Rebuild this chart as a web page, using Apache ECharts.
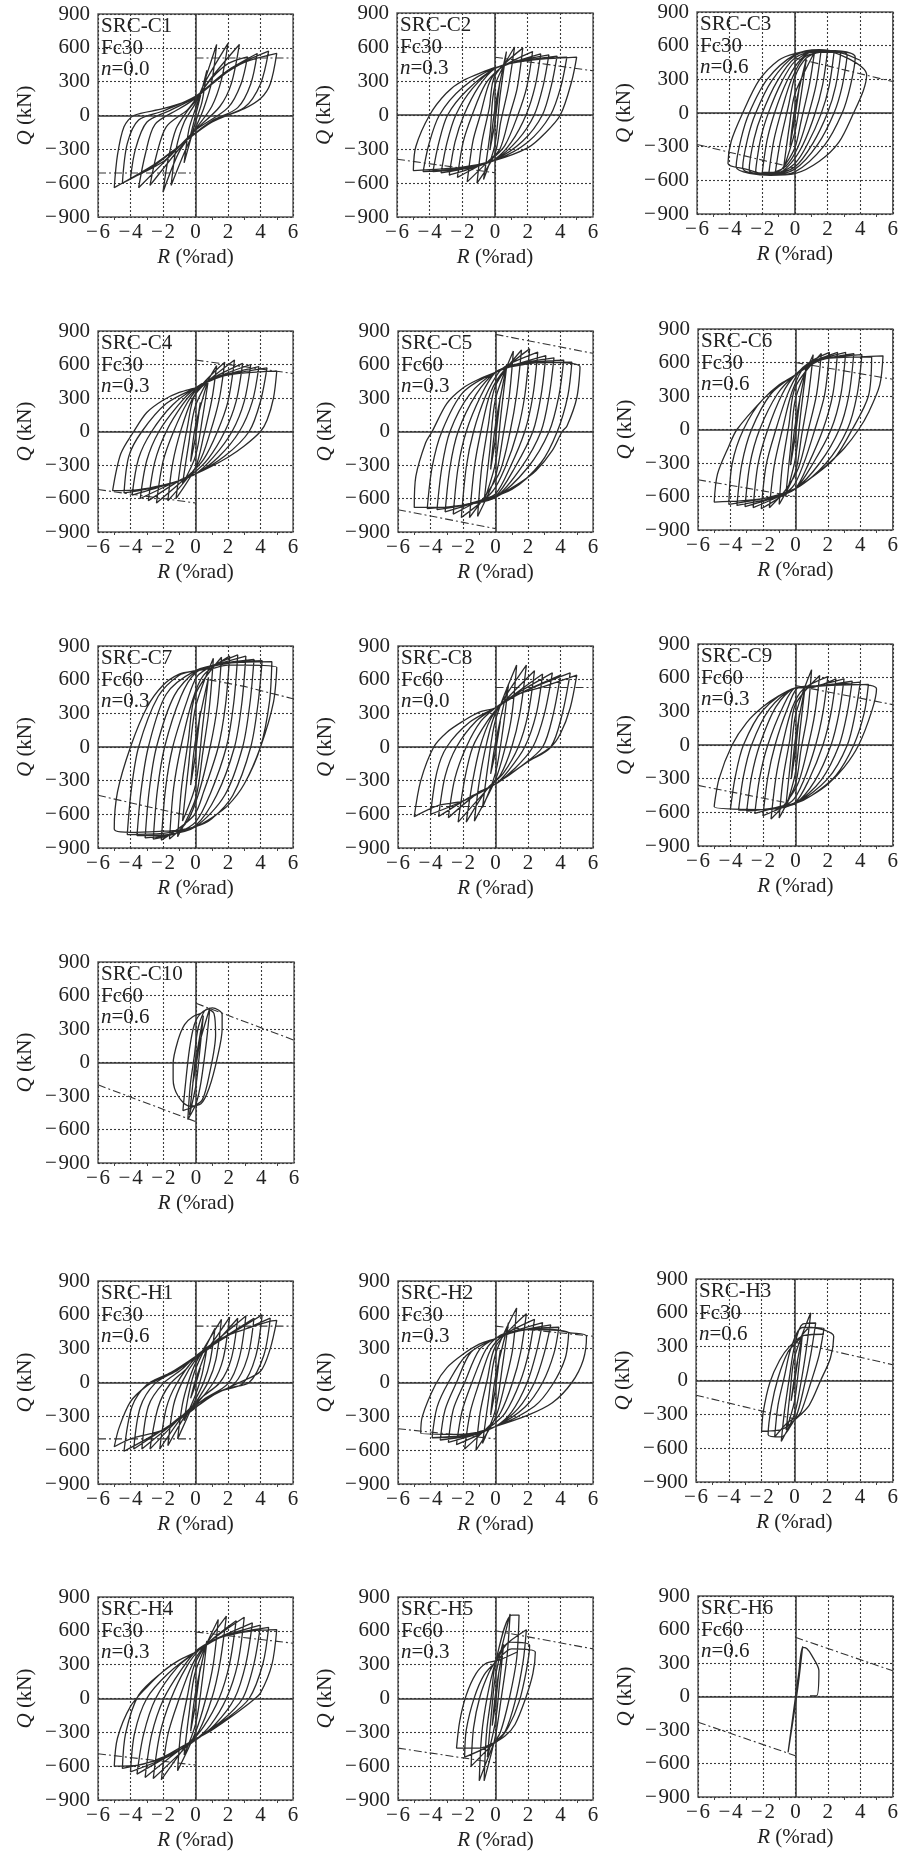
<!DOCTYPE html>
<html><head><meta charset="utf-8">
<style>html,body{margin:0;padding:0;background:#fff}#c{width:901px;height:1852px}</style>
<script src="https://cdn.jsdelivr.net/npm/echarts@6/dist/echarts.min.js"></script>
</head><body><div id="c"></div>
<script>
const specimenNames=['SRC-C1','SRC-C2','SRC-C3','SRC-C4','SRC-C5','SRC-C6','SRC-C7','SRC-C8','SRC-C9','SRC-C10','SRC-H1','SRC-H2','SRC-H3','SRC-H4','SRC-H5','SRC-H6'];
const concreteLabels=['Fc30','Fc30','Fc30','Fc30','Fc60','Fc30','Fc60','Fc60','Fc60','Fc60','Fc30','Fc30','Fc30','Fc30','Fc60','Fc60'];
const axialLabels=['0.0','0.3','0.6','0.3','0.3','0.6','0.3','0.0','0.3','0.6','0.6','0.3','0.6','0.3','0.3','0.6'];
const xTickRange=[-6,6,2];
const yTickRange=[-900,900,300];

const pathC1=[0,0,0.3,170,0,0,-0.3,-170,0,0,
0.7,400,0.4,120,0,-60,-0.7,-420,-0.4,-120,0,60,
1.3,630,1,300,0.5,60,0,-110,-0.6,-300,-1.5,-620,-1.2,-300,-0.7,-60,0,110,0.6,300,
2,640,1.6,320,1,80,0,-120,-1,-320,-2,-680,-1.7,-400,-1.2,-120,-0.5,40,0,130,1,340,
2.7,630,2.2,280,1.5,80,0,-130,-1.2,-330,-2.8,-620,-2.4,-350,-1.8,-100,-0.5,50,0,140,1,330,2,460,
3.2,520,2.8,280,2,70,0,-130,-1.5,-350,-3.5,-640,-3.1,-350,-2.5,-80,-1,60,0,150,1.2,310,2.2,420,
3.8,550,3.4,280,2.6,70,1,-50,-1,-270,-2,-410,-4,-560,-3.7,-300,-3,-60,-1.5,50,0,160,1.2,300,2.5,440,
4.5,570,4,280,3,70,1,-50,-1,-270,-2.5,-440,-4.5,-600,-4.2,-250,-3.5,-40,-2,40,0,170,1.5,340,3,470,
5,550,4.6,280,4,150,3,60,1,-60,-1,-270,-2.5,-430,-5,-640,-4.8,-350,-4.4,-100,-3.8,0,-2,60,0,150];
const pathC2=[0,0,0.3,300,0,-60,-0.3,-300,0,60,
0.7,560,0.3,160,0,-260,-0.7,-570,-0.3,-160,0,260,
1.2,600,0.8,230,0.35,-60,0,-340,-1.1,-600,-0.8,-240,-0.35,60,0,350,
1.7,590,1.35,230,0.9,0,0.3,-300,-0.5,-420,-1.7,-590,-1.35,-230,-0.9,0,-0.3,300,0.5,430,
2.3,560,1.95,250,1.4,0,0.6,-270,-0.3,-400,-1,-450,-2.3,-550,-1.95,-240,-1.4,0,-0.6,270,0.3,410,1,460,
2.8,540,2.45,250,1.9,0,1,-240,0,-390,-1.2,-460,-2.8,-530,-2.45,-240,-1.9,0,-1,250,0,410,1.2,470,
3.3,530,2.95,260,2.4,0,1.4,-220,0,-395,-1.5,-465,-3.3,-510,-2.95,-250,-2.4,0,-1.4,230,0,410,1.5,475,
3.8,520,3.45,260,2.9,0,1.7,-230,0,-395,-1.8,-470,-3.8,-500,-3.45,-250,-2.9,0,-1.7,220,0,410,1.8,480,
4.4,510,4.05,260,3.4,0,2,-240,0,-400,-2,-470,-4.4,-500,-4.05,-260,-3.4,0,-2,240,0,415,2,480,
5,510,4.7,300,4,0,3,-170,2,-290,0,-400,-2,-460,-5,-490,-4.85,-280,-4,0,-3,190,-2,300,0,420];
const pathC3=[0,0,0.3,260,0,-40,-0.3,-290,0,40,
0.7,480,0.35,130,0,-170,-0.7,-500,-0.35,-130,0,170,
1.2,540,0.9,260,0.4,-60,0,-310,-0.8,-500,-1.2,-530,-0.9,-260,-0.4,60,0,320,0.7,490,
1.6,550,1.3,250,0.8,-30,0.2,-300,-0.6,-480,-1.6,-540,-1.3,-250,-0.8,30,-0.2,300,0.6,500,
2,550,1.7,250,1.2,-20,0.5,-280,-0.2,-440,-1,-530,-2,-530,-1.7,-240,-1.2,20,-0.5,280,0.2,450,1,540,
2.4,540,2.1,240,1.6,-10,0.8,-270,0,-450,-1.2,-540,-2.4,-520,-2.1,-230,-1.6,10,-0.8,280,0,460,1.2,550,
2.8,530,2.5,240,2,0,1.1,-270,0,-480,-1.4,-545,-2.8,-510,-2.5,-230,-2,0,-1.1,280,0,490,1.4,555,
3.2,520,2.9,240,2.4,0,1.4,-280,0,-500,-1.5,-550,-3.2,-490,-2.9,-230,-2.4,0,-1.4,290,0,510,1.5,560,
3.7,500,3.4,240,2.9,0,1.8,-290,0,-525,-1.5,-555,-3.6,-480,-3.3,-230,-2.8,0,-1.7,300,0,520,1.5,565,
4.4,340,4.2,200,3.6,0,2.7,-260,1.5,-430,0,-540,-1.5,-555,-3,-500,-4.1,-450,-3.9,-250,-3.2,0,-2.2,290,-1,470,0,530,1.5,565,3,530,4,470];
const pathC4=[0,0,0.3,260,0,-50,-0.3,-270,0,50,
0.8,470,0.45,140,0,-220,-0.8,-470,-0.45,-140,0,230,
1.3,590,1,280,0.5,-40,0,-320,-1.2,-600,-0.9,-280,-0.5,40,0,340,
1.8,620,1.45,280,0.9,-10,0.2,-280,-1.7,-620,-1.4,-280,-0.9,10,-0.2,290,0.6,430,
2.4,640,2,270,1.35,0,0.5,-250,-0.4,-390,-2.4,-640,-2,-270,-1.35,0,-0.5,260,0.4,420,
2.9,610,2.5,270,1.8,0,0.8,-240,-0.2,-380,-1,-440,-2.9,-620,-2.5,-270,-1.8,0,-0.8,240,0.1,390,1,470,
3.4,600,3,270,2.25,0,1.1,-230,0,-380,-1.2,-450,-3.4,-600,-3,-260,-2.25,0,-1.1,230,0,390,1.2,480,
3.9,580,3.5,270,2.7,0,1.4,-230,0,-380,-1.6,-470,-3.9,-570,-3.5,-240,-2.7,0,-1.4,240,0,390,1.5,490,
4.4,570,4,270,3.3,0,1.8,-220,0,-380,-1.8,-480,-4.4,-550,-4.1,-220,-3.3,0,-1.8,250,0,390,1.8,500,
5,540,4.8,300,4.4,100,4,0,3,-130,2,-230,1,-310,0,-380,-1,-440,-2,-480,-3.5,-520,-5.1,-530,-4.6,-200,-3.8,0,-3,170,-2,280,-1,350,0,390];
const pathC5=[0,0,0.3,320,0,-60,-0.3,-340,0,60,
0.7,600,0.35,170,0,-280,-0.7,-620,-0.35,-170,0,290,
1.1,720,0.85,320,0.45,-50,0,-400,-1.1,-760,-0.85,-320,-0.45,50,0,410,
1.6,730,1.3,330,0.9,0,0.3,-350,-0.6,-570,-1.6,-770,-1.3,-320,-0.9,0,-0.3,350,0.6,560,
2.1,740,1.8,320,1.35,0,0.6,-320,-0.2,-540,-2.1,-770,-1.8,-320,-1.35,0,-0.6,320,0.2,530,0.8,600,
2.6,710,2.3,320,1.8,0,0.9,-320,0,-560,-1,-620,-2.6,-740,-2.3,-320,-1.8,0,-0.9,320,0,530,1,590,
3.1,680,2.8,320,2.3,0,1.2,-320,0,-580,-1.3,-640,-3.1,-720,-2.8,-320,-2.3,0,-1.2,330,0,530,1.2,600,
3.6,660,3.3,320,2.8,0,1.6,-320,0,-590,-1.6,-650,-3.6,-700,-3.3,-320,-2.8,0,-1.6,330,0,530,1.6,610,
4.2,640,3.9,320,3.3,0,2,-320,0,-590,-2,-660,-4.2,-690,-3.9,-320,-3.3,0,-2,350,0,530,2,615,
4.7,620,4.45,320,3.8,0,2.8,-280,1,-520,-1,-620,-3,-680,-5,-680,-4.9,-400,-4.3,-100,-3.9,0,-3,250,-2,390,-1,470,0,530,1,580,3,620,
5.2,580,5,300,4.4,50,4.1,0,3.5,-170,2.5,-350,1.5,-460,0,-590];
const pathC6=[0,0,0.3,300,0,-50,-0.3,-320,0,50,
0.7,580,0.35,170,0,-260,-0.6,-600,-0.3,-170,0,270,
1.1,670,0.8,300,0.4,-40,0,-380,-1,-670,-0.8,-320,-0.4,40,0,380,
1.6,680,1.3,310,0.8,0,0.2,-340,-0.6,-540,-1.6,-700,-1.3,-320,-0.8,0,-0.2,340,0.6,570,
2.1,690,1.8,310,1.2,0,0.5,-310,-0.2,-520,-2.1,-710,-1.8,-320,-1.2,0,-0.5,310,0.2,510,0.8,590,
2.6,690,2.3,310,1.7,0,0.8,-310,0,-530,-1,-600,-2.6,-700,-2.3,-310,-1.7,0,-0.8,320,0,490,1,600,
3.1,690,2.8,310,2.2,0,1.1,-300,0,-530,-1.3,-610,-3.1,-690,-2.8,-310,-2.2,0,-1.1,320,0,490,1.2,610,
3.6,680,3.3,310,2.7,0,1.5,-300,0,-530,-1.6,-620,-3.6,-680,-3.3,-310,-2.7,0,-1.5,320,0,490,1.5,620,
4.1,670,3.8,310,3.2,0,1.9,-300,0,-530,-2,-620,-4.1,-670,-3.9,-310,-3.2,0,-2,270,0,490,1.9,635,
4.7,650,4.5,300,3.5,0,2.4,-260,1,-430,0,-530,-2,-620,-5,-650,-4.8,-400,-4.1,-150,-3.6,0,-2,270,-1,400,0,490,1,610,2,640,4,650,
5.4,660,5.2,400,4.5,150,3.9,0,3,-170,2,-310,1,-430,0,-530];
const pathC7=[0,0,0.3,320,0,-60,-0.3,-340,0,60,
0.8,620,0.45,200,0,-340,-0.8,-660,-0.45,-200,0,350,
1.1,790,0.85,350,0.45,-50,0,-460,-1.1,-800,-0.85,-350,-0.45,50,0,470,
1.6,800,1.35,370,0.9,0,0.2,-410,-0.5,-660,-1.6,-820,-1.35,-370,-0.9,0,-0.2,410,0.5,640,
2.1,810,1.85,380,1.4,0,0.5,-400,-0.1,-610,-2.1,-830,-1.85,-380,-1.4,0,-0.5,420,0.1,630,1,720,
2.6,820,2.35,390,1.9,0,0.9,-420,0,-670,-1.2,-770,-2.6,-820,-2.35,-390,-1.9,0,-0.9,450,0,660,1.2,730,
3.1,810,2.85,390,2.4,0,1.3,-430,0,-700,-1.5,-780,-3.1,-810,-2.85,-390,-2.4,0,-1.3,460,0,670,1.5,740,
3.6,780,3.35,390,2.9,0,1.8,-430,0,-710,-1.7,-780,-3.6,-790,-3.35,-390,-2.9,0,-1.8,470,0,680,1.8,745,
4.1,770,3.85,390,3.4,0,2.3,-430,1,-640,0,-710,-2,-770,-4.2,-780,-3.95,-380,-3.5,0,-2.3,450,-1,640,0,680,2,745,
4.7,760,4.55,400,4,0,3,-330,2,-520,1,-630,0,-710,-1,-740,-2,-750,-4,-760,-5,-730,-4.8,-400,-4,0,-3,350,-2,550,-1,650,0,680,1,700,2,730,3,730,
5,710,4.8,400,4,0,3,-330,2,-520,1,-630];
const pathC8=[0,0,0.3,230,0,-40,-0.3,-240,0,40,
0.8,560,0.45,150,0,-230,-0.8,-540,-0.45,-150,0,240,
1.3,730,1,280,0.55,-30,0,-290,-1.3,-660,-1,-310,-0.55,30,0,300,
1.9,730,1.5,300,1,0,0.3,-250,-0.5,-370,-1.8,-670,-1.4,-300,-0.95,0,-0.3,250,0.5,400,
2.4,680,2,290,1.4,0,0.5,-230,-0.4,-360,-2.3,-670,-1.9,-290,-1.4,0,-0.5,230,0.3,370,
2.9,650,2.5,290,1.8,0,0.8,-210,0,-330,-1,-400,-2.9,-630,-2.5,-280,-1.8,0,-0.9,230,0,350,1,450,
3.5,660,3,290,2.3,0,1.2,-190,0,-330,-1.5,-440,-3.5,-620,-3.1,-260,-2.4,0,-1.2,230,0,350,1.4,470,
4,640,3.55,290,2.9,0,1.5,-180,0,-330,-1.8,-470,-4,-600,-3.6,-220,-3,0,-1.6,220,0,350,1.7,490,
4.6,660,4.1,290,3.4,0,2,-130,1,-230,0,-330,-2,-480,-3.5,-520,-5,-620,-4.6,-300,-3.8,0,-3,130,-2,230,-1,310,0,350,1,450,2,500,3,540,
5,640,4.6,350,4,120,3.4,0,2,-130,1,-230,0,-330];
const pathC9=[0,0,0.25,280,0,-50,-0.25,-300,0,50,
0.6,520,0.3,150,0,-250,-0.6,-560,-0.3,-150,0,260,
1,670,0.75,280,0.35,-40,0,-350,-1,-650,-0.75,-290,-0.35,40,0,360,
1.5,620,1.2,280,0.8,0,0.2,-330,-0.5,-500,-1.5,-660,-1.2,-290,-0.8,0,-0.2,330,0.5,500,
2,610,1.7,290,1.25,0,0.5,-320,-0.2,-500,-2,-630,-1.7,-290,-1.25,0,-0.5,320,0.2,510,0.8,510,
2.5,590,2.2,290,1.7,0,0.8,-320,0,-510,-1,-550,-2.5,-610,-2.2,-290,-1.7,0,-0.8,330,0,510,1,520,
3,590,2.7,290,2.2,0,1.2,-320,0,-520,-1.3,-560,-3,-590,-2.7,-280,-2.2,0,-1.2,340,0,510,1.3,525,
3.5,570,3.2,290,2.7,0,1.6,-310,0,-520,-1.6,-570,-3.5,-580,-3.2,-280,-2.7,0,-1.6,320,0,510,1.6,530,
4,560,3.7,290,3.2,0,2,-300,0,-520,-2,-575,-4,-570,-3.7,-280,-3.2,0,-2,310,0,510,2,530,
4.5,540,4.25,290,3.6,0,2.5,-270,1,-450,0,-520,-2,-575,-5,-550,-4.7,-300,-3.9,0,-3,200,-2,340,-1,440,0,510,1,520,2,530,4,540,
5,500,4.7,300,3.9,0,3,-200,2,-350,1,-450,0,-520];
const pathC10=[0,0,0.2,160,0,-30,-0.2,-190,0,30,
0.45,420,0.2,60,0,-200,-0.4,-470,-0.2,-200,0,50,
0.85,490,0.65,200,0.3,-180,0,-370,-0.5,-510,-0.35,-200,-0.1,60,0.15,320,
0.7,480,1.1,440,1.2,250,0.8,-120,0.4,-330,-0.1,-390,-0.8,-430,-0.65,-200,-0.4,120,-0.1,340,0.3,440,
1,490,1.6,430,1.6,300,1.3,40,0.8,-230,0.3,-370,-0.4,-390,-1.1,-300,-1.4,-150,-1.4,-10,-1.1,200,-0.7,340,-0.2,410,0.3,440];
const pathH1=[0,0,0.3,130,0,-20,-0.3,-140,0,20,
0.7,300,0.4,70,0,-110,-0.7,-340,-0.4,-90,0,120,
1.2,480,0.9,190,0.5,0,0,-150,-1.1,-500,-0.8,-190,-0.45,0,0,170,
1.6,560,1.25,200,0.8,10,0,-180,-0.7,-310,-1.7,-560,-1.35,-200,-0.8,10,0,200,0.8,310,
2.1,580,1.7,210,1.1,0,0,-200,-0.9,-320,-2.2,-590,-1.8,-230,-1.2,-20,0,220,1,320,
2.6,570,2.2,210,1.5,0,0.4,-130,-1,-320,-2.8,-590,-2.3,-220,-1.6,-20,-0.5,130,0,230,1,340,
3.1,590,2.7,220,2,-10,0.5,-150,-1,-320,-3.3,-590,-2.9,-210,-2,-10,-0.9,110,0,230,1.2,350,
3.6,570,3.2,220,2.4,-10,1,-110,-0.4,-270,-1.5,-370,-3.8,-590,-3.4,-220,-2.5,-10,-1.1,110,0,230,1.5,370,
4.1,600,3.7,230,2.9,-10,1.5,-80,0,-220,-1.8,-400,-4.4,-610,-3.9,-210,-3,-20,-1.5,90,0,230,2,420,3,470,
4.6,570,4.2,240,3.3,0,2,-50,1,-120,0,-220,-1,-310,-2,-420,-4,-500,-5,-570,-4.7,-400,-4,-170,-3,-30,-2,50,-1,130,0,230,1,340,2,420,3,470,4.5,540,
5,550,4.6,300,4,100,2.7,0,1,-120,0,-220];
const pathH2=[0,0,0.3,290,0,-50,-0.3,-290,0,50,
0.8,530,0.45,170,0,-240,-0.8,-540,-0.45,-170,0,250,
1.3,660,1.05,290,0.55,-30,0,-310,-1.2,-600,-0.95,-270,-0.5,30,0,320,
1.9,610,1.55,270,1.05,0,0.3,-270,-0.5,-400,-1.9,-590,-1.55,-260,-1,0,-0.3,290,0.5,420,
2.4,560,2.05,270,1.5,0,0.6,-270,-0.2,-380,-1,-460,-2.4,-550,-2.05,-250,-1.45,0,-0.6,290,0.2,410,1,450,
2.9,530,2.5,260,1.95,0,1,-260,0,-390,-1.2,-460,-2.9,-530,-2.6,-240,-1.9,0,-1,290,0,390,1.2,450,
3.4,510,3,260,2.4,0,1.4,-230,0,-390,-1.6,-470,-3.4,-510,-3.1,-240,-2.4,0,-1.5,270,0,390,1.6,465,
3.9,490,3.6,260,2.9,0,1.8,-220,0,-390,-2,-470,-3.9,-490,-3.6,-220,-2.9,0,-1.8,240,0,390,2,470,
4.5,440,4.3,220,3.5,-20,2.4,-210,0,-390,-2.2,-460,-4.6,-450,-4.5,-300,-3.7,-20,-3,130,-2,250,-1,340,0,390,1,440,2,470,3.5,470,4.6,440,
5.6,410,5.4,200,4.7,0,3.5,-180,2,-290,0,-390];
const pathH3=[0,0,0.2,170,0,-20,-0.2,-180,0,20,
0.5,420,0.25,90,0,-190,-0.5,-440,-0.25,-90,0,200,
1,600,0.75,300,0.4,-20,0,-300,-0.8,-540,-0.6,-270,-0.3,30,0,300,0.5,500,
1.3,510,1,230,0.6,-50,0.1,-320,-0.4,-370,-1.2,-500,-1,-220,-0.6,40,-0.2,290,0.5,470,
1.8,460,1.5,220,1,-20,0.4,-280,0,-350,-0.8,-500,-1.6,-480,-1.4,-230,-1,20,-0.4,250,0.2,350,1,470,
2.4,390,2.2,200,1.6,0,0.9,-220,0.1,-340,-0.7,-430,-2,-450,-1.9,-280,-1.5,-20,-0.9,180,-0.3,300,0.6,400,1.8,410];
const pathH4=[0,0,0.3,280,0,-50,-0.3,-290,0,50,
0.7,510,0.4,140,0,-230,-0.7,-500,-0.4,-140,0,240,
1.4,700,1.1,310,0.6,-20,0,-300,-1.1,-640,-0.9,-290,-0.5,20,0,320,
1.9,730,1.5,310,1,0,0.2,-290,-0.7,-440,-2.1,-720,-1.7,-320,-1,0,-0.2,300,0.6,470,
2.5,690,2.1,310,1.45,0,0.5,-250,-0.5,-420,-2.6,-710,-2.2,-320,-1.5,0,-0.6,270,0.3,440,
3,720,2.6,310,1.9,0,0.9,-240,-0.2,-390,-1.1,-470,-3.1,-700,-2.7,-320,-1.95,0,-0.9,250,0.1,430,1,510,
3.5,670,3.1,310,2.4,0,1.2,-230,0,-370,-1.3,-480,-3.6,-670,-3.2,-320,-2.45,0,-1.1,280,0,410,1.3,530,
4,650,3.6,310,2.9,0,1.6,-200,0,-360,-1.6,-510,-4,-650,-3.75,-310,-3,0,-1.7,220,0,410,1.7,550,
4.5,630,4.15,310,3.3,0,1.9,-180,0,-360,-1.8,-520,-4.5,-620,-4.3,-310,-3.5,30,-2,240,-1,340,0,410,1,510,2,560,3.5,600,
5,610,4.7,300,4,50,3.5,-20,2.5,-130,1,-280,0,-360,-1,-440,-2,-520,-3.5,-590,-5,-600,-4.8,-350,-4,-70,-3,100,-2,240,-1,340,0,410];
const pathH5=[0,0,0.2,230,0,-40,-0.2,-240,0,40,
0.5,480,0.25,130,0,-200,-0.5,-520,-0.25,-130,0,200,
0.9,750,0.7,360,0.35,0,0,-330,-0.7,-730,-0.55,-300,-0.25,30,0,320,
1,740,1.45,740,1.3,350,0.85,0,0.3,-300,-0.1,-400,-1,-730,-0.85,-320,-0.5,20,0,320,0.5,460,
1.9,610,1.7,330,1.2,-30,0.6,-290,0,-380,-1.5,-600,-1.35,-260,-0.95,20,-0.4,230,0.1,350,0.9,500,
2.1,470,1.9,250,1.45,-30,0.8,-250,0.1,-380,-1.9,-520,-1.8,-280,-1.3,10,-0.7,210,0,320,1,440,
2.45,410,2.3,220,1.85,0,1.2,-230,0.6,-330,-0.2,-400,-1,-440,-2.4,-440,-2.2,-200,-1.8,30,-1.2,220,-0.6,310,0.2,340,1.3,410];
const pathH6=[0,0,0.45,450,0.15,80,-0.45,-500,-0.1,-120,0.2,200,0.45,440,0.7,430,1,370,1.45,230,1.3,5,0.9,5];

// Design strength lines: upper branch R,Q points, then lower branch
const strengthUpper=[[0,510,6,510],[0,510,6,390],[0,490,6,280],[0,640,6,520],[0,870,6,700],[0,600,6,450],[0.8,600,3,540,6,430],[0,530,6,530],[0,530,6,360],[0,530,6,200],[0,500,6,500],[0,500,6,410],[0,340,6,140],[0,590,6,490],[0,600,6,440],[0,530,6,230]];
const strengthLower=[[-6,-510,0,-510],[-6,-390,0,-510],[-6,-280,0,-490],[-6,-520,0,-640],[-6,-700,0,-870],[-6,-450,0,-600],[-6,-430,-3,-530,-0.8,-600],[-6,-530,0,-530],[-6,-360,0,-530],[-6,-200,0,-530],[-6,-500,0,-500],[-6,-410,0,-500],[-6,-130,0,-340],[-6,-490,0,-590],[-6,-440,0,-570],[-6,-230,0,-530]];
const paths=[pathC1,pathC2,pathC3,pathC4,pathC5,pathC6,pathC7,pathC8,pathC9,pathC10,pathH1,pathH2,pathH3,pathH4,pathH5,pathH6];

// Layout: plot rectangles in px, left, top, right, bottom
const plotBoxes=[[98,14,293,217],[397,13,593,217],[697,12,893,214],
[98,331,293,532],[398,331,593,532],[698,329,893,530],
[98,646,293,848],[398,646,593,848],[698,644,893,846],
[98,962,294,1163],
[98,1281,293,1484],[398,1281,593,1484],[696,1279,893,1482],
[98,1597,293,1800],[398,1597,593,1800],[698,1596,894,1797]];

const FONT='"Liberation Serif","Times New Roman",serif';
const INK='#2b2b2b';
const FS=21;
const pairs=f=>{const o=[];for(let i=0;i<f.length;i+=2)o.push([f[i],f[i+1]]);return o;};
const minus=v=>String(v).replace('-','\u2212\u200a');

const grids=[],xAxes=[],yAxes=[],series=[],graphics=[];
plotBoxes.forEach((b,i)=>{
  grids.push({left:b[0],top:b[1],width:b[2]-b[0],height:b[3]-b[1],show:true,borderColor:'#555',borderWidth:1.4,backgroundColor:'transparent'});
  xAxes.push({gridIndex:i,type:'value',min:xTickRange[0],max:xTickRange[1],interval:xTickRange[2],
    axisLine:{show:false,onZero:false},axisTick:{show:false},minorTick:{show:true,splitNumber:2,length:3,lineStyle:{color:'#444'}},
    splitLine:{show:true,lineStyle:{color:'#3a3a3a',type:[2,2],width:1.1}},
    axisLabel:{color:'#222',fontFamily:FONT,fontSize:FS,margin:5,hideOverlap:false,formatter:minus,showMinLabel:true,showMaxLabel:true},
    name:'{i|R} (%rad)',nameLocation:'middle',nameGap:30,
    nameTextStyle:{color:'#222',fontFamily:FONT,fontSize:FS,rich:{i:{fontStyle:'italic',fontFamily:FONT,fontSize:FS,color:'#222'}}}});
  yAxes.push({gridIndex:i,type:'value',min:yTickRange[0],max:yTickRange[1],interval:yTickRange[2],
    axisLine:{show:false,onZero:false},axisTick:{show:false},minorTick:{show:false},
    splitLine:{show:true,lineStyle:{color:'#3a3a3a',type:[2,2],width:1.1}},
    axisLabel:{color:'#222',fontFamily:FONT,fontSize:FS,margin:8,formatter:minus,showMinLabel:true,showMaxLabel:true},
    name:'{i|Q} (kN)',nameLocation:'middle',nameGap:62,nameRotate:90,
    nameTextStyle:{color:'#222',fontFamily:FONT,fontSize:FS,rich:{i:{fontStyle:'italic',fontFamily:FONT,fontSize:FS,color:'#222'}}}});
  series.push({type:'line',name:specimenNames[i]+' strength +',xAxisIndex:i,yAxisIndex:i,data:pairs(strengthUpper[i]),showSymbol:false,silent:true,z:3,
    lineStyle:{color:'#333',width:1.1,type:[8,3,2,3]},
    markLine:{silent:true,symbol:'none',label:{show:false},animation:false,lineStyle:{color:'#333',type:'solid',width:1.5},data:[{xAxis:0},{yAxis:0}]}});
  series.push({type:'line',name:specimenNames[i]+' strength \u2212',xAxisIndex:i,yAxisIndex:i,data:pairs(strengthLower[i]),showSymbol:false,silent:true,z:3,
    lineStyle:{color:'#333',width:1.1,type:[8,3,2,3]}});
  series.push({type:'line',name:specimenNames[i],xAxisIndex:i,yAxisIndex:i,data:pairs(paths[i]),showSymbol:false,silent:true,z:4,
    smooth:0.3,lineStyle:{color:INK,width:1.3},animation:false});
  const rows=[specimenNames[i],concreteLabels[i],'{v|n}='+axialLabels[i]];
  rows.forEach((t,k)=>graphics.push({type:'text',left:b[0]+3,top:b[1]+[2,23.5,45][k],z:10,silent:true,
    style:{text:t,fill:'#222',font:FS+'px '+FONT,rich:{v:{fontStyle:'italic',fontFamily:FONT,fontSize:FS,fill:'#222'}}}}));
});
const chart=echarts.init(document.getElementById('c'),null,{renderer:'canvas'});
chart.setOption({animation:false,backgroundColor:'#fff',grid:grids,xAxis:xAxes,yAxis:yAxes,series:series,graphic:graphics});
</script></body></html>
